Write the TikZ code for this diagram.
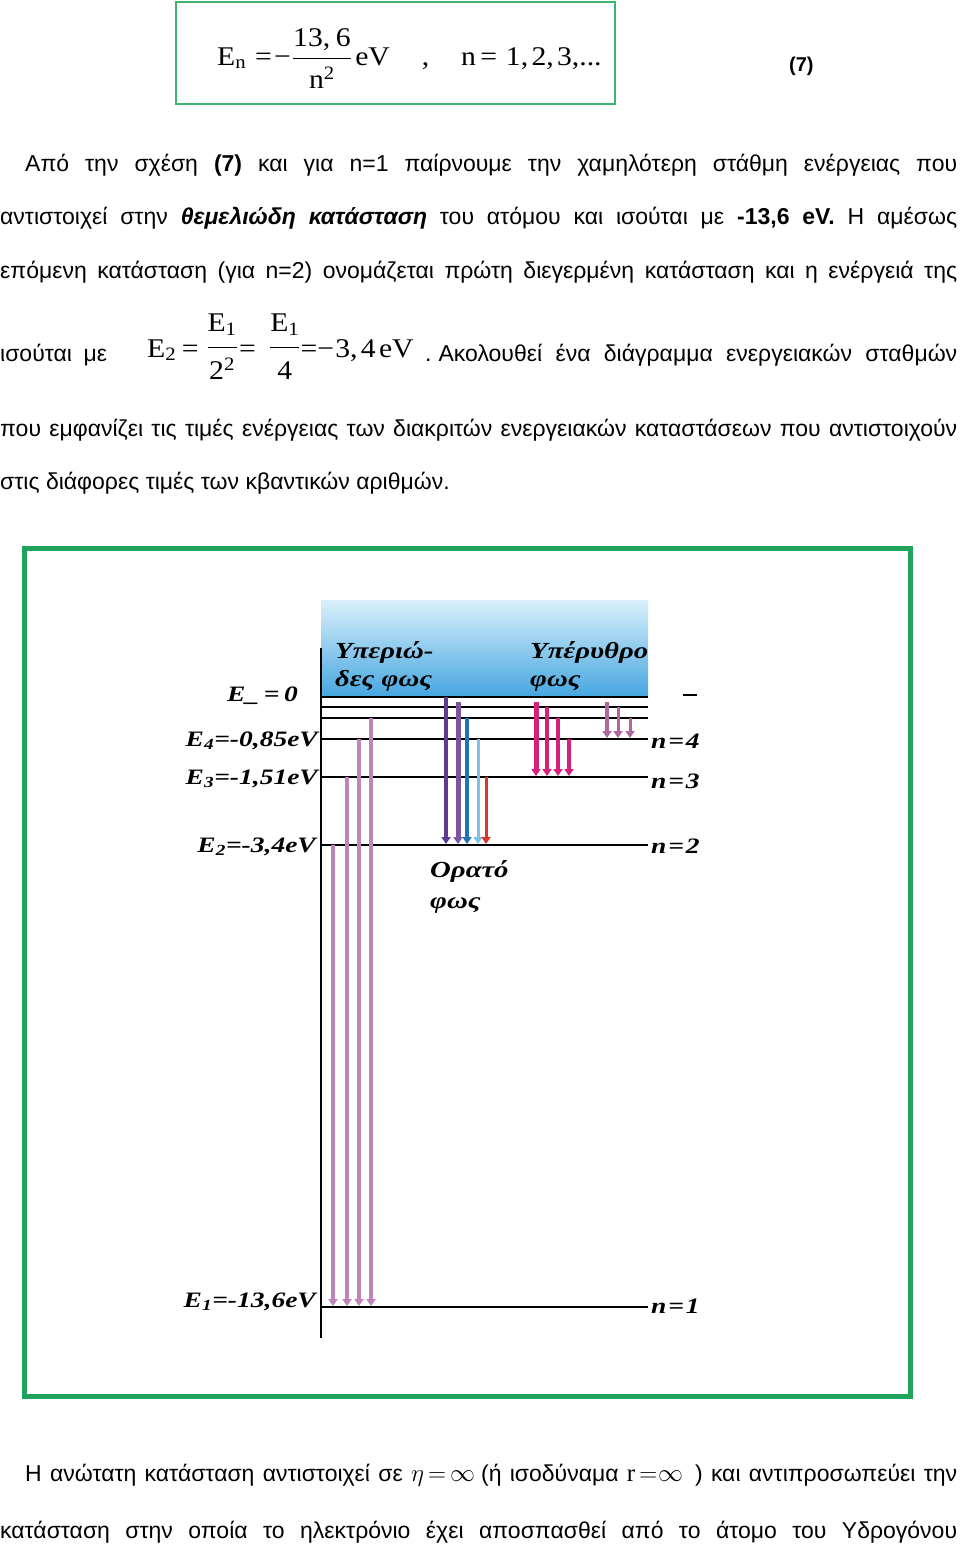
\documentclass[tikz,border=0pt]{standalone}
\usepackage{amsmath}
\usepackage{graphicx}
\usepackage{fontspec}
\setmainfont{Liberation Sans}
\newfontfamily\timesgr{Liberation Serif}
\setmathrm{Liberation Serif}
\usetikzlibrary{arrows.meta,positioning}

\definecolor{framegreen}{HTML}{1DA35B}
\definecolor{boxgreen}{HTML}{3DB56E}
\definecolor{uvtop}{HTML}{DAF0FB}
\definecolor{uvbot}{HTML}{45A6E0}
\definecolor{lymanc}{HTML}{C184BA}
\definecolor{balmera}{HTML}{5B3C8E}
\definecolor{balmerb}{HTML}{7B569F}
\definecolor{balmerc}{HTML}{2173B6}
\definecolor{balmerd}{HTML}{7DC1EA}
\definecolor{balmere}{HTML}{D9352B}
\definecolor{paschenc}{HTML}{D81E7B}
\definecolor{brackc}{HTML}{B0679F}

\newcommand{\widelbl}[1]{\scalebox{1.25}[1]{#1}}
\newcommand{\wideeq}[1]{\scalebox{1.1}[1]{#1}}
% fraction: numerator, denominator, depth under numerator, height over denominator
\newcommand{\tfr}[4]{\ensuremath{\dfrac{\mbox{\rule[-#3]{0pt}{#3}#1}}{\mbox{\rule{0pt}{#4}#2}}}}

\tikzset{
  para/.style={anchor=base west, inner sep=0pt, font=\fontsize{23}{27}\selectfont},
  eqtext/.style={anchor=base west, inner sep=0pt, font=\fontsize{27}{32}\timesgr},
  level/.style={line width=2pt},
  photon/.style={line width=#1, -{Triangle[length=7pt,width=9pt]}, shorten >=1pt},
  photon/.default=4pt,
  lvlabel/.style={anchor=base east, inner sep=0pt, font=\fontsize{22}{26}\timesgr\bfseries\itshape},
  nlabel/.style={anchor=base west, inner sep=0pt, font=\fontsize{22}{26}\timesgr\bfseries\itshape},
  bandlabel/.style={anchor=base west, inner sep=0pt, align=left, font=\fontsize{23}{31}\timesgr\bfseries\itshape},
}

\begin{document}
\begin{tikzpicture}[x=1pt, y=-1pt]
\path[use as bounding box, fill=white] (0,0) rectangle (960,1545);

% formula (7)
\draw[boxgreen, line width=2pt] (176,2) rectangle (615,104);
\node[eqtext] (eqn) at (217,65)
  {\wideeq{E\textsubscript{n}\kern8pt=\kern2pt−\kern1pt\tfr{13,\kern5pt6}{n\textsuperscript{2}}{8.5pt}{26.5pt}\kern3pt eV\hspace{29pt},\hspace{29pt}n\kern4pt=\kern8pt1,\kern3pt2,\kern3pt3,...}};
\node[anchor=base west, inner sep=0pt, font=\fontsize{20}{24}\selectfont\bfseries] (eqno) at (789,71) {(7)};

% text above
\node[para] (line1) at (25,171) {\makebox[932pt][s]{Από την σχέση \textbf{(7)} και για n=1 παίρνουμε την χαμηλότερη στάθμη ενέργειας που}};
\node[para] (line2) at (0,224) {\makebox[957pt][s]{αντιστοιχεί στην \textbf{\textit{θεμελιώδη κατάσταση}} του ατόμου και ισούται με \textbf{-13,6 eV.} Η αμέσως}};
\node[para] (line3) at (0,278) {\makebox[957pt][s]{επόμενη κατάσταση (για n=2) ονομάζεται πρώτη διεγερμένη κατάσταση και η ενέργειά της}};
\node[para] (line4a) at (0,361) {\makebox[107pt][s]{ισούται με}};
\node[eqtext] (eqE2) at (147,357)
  {\wideeq{E\textsubscript{2}\kern5pt=\kern7pt\raisebox{3pt}{\tfr{E\textsubscript{1}}{2\textsuperscript{2}}{12.5pt}{28.5pt}}\kern1pt=\kern12pt\raisebox{3pt}{\tfr{E\textsubscript{1}}{4}{12.5pt}{28.5pt}}=−\kern1pt3,\kern3pt4\kern3pt eV}};
\node[para] (line4b) at (425,361) {\makebox[532pt][s]{\mbox{.\kern7pt Ακολουθεί} ένα διάγραμμα ενεργειακών σταθμών}};
\node[para] (line5) at (0,436) {\makebox[957pt][s]{που εμφανίζει τις τιμές ενέργειας των διακριτών ενεργειακών καταστάσεων που αντιστοιχούν}};
\node[para] (line6) at (0,489) {στις διάφορες τιμές των κβαντικών αριθμών.};

% energy level diagram
\draw[framegreen, line width=5pt] (24.5,548.5) rectangle (910.5,1396.5);

\coordinate (uvnw) at (321,600);
\coordinate (uvse) at (648,697);
\coordinate (E0) at (321,697);
\coordinate (top) at (321,702);
\coordinate (l6) at (321,707);
\coordinate (l5) at (321,718);
\coordinate (n4) at (321,739);
\coordinate (n3) at (321,777);
\coordinate (n2) at (321,845);
\coordinate (n1) at (321,1307);
\coordinate (axtop) at (321,648);
\coordinate (axbot) at (321,1338);

\shade[top color=uvtop, bottom color=uvbot] (uvnw) rectangle (uvse);
\draw[level, line width=2.5pt] (E0) -- (uvse);
\foreach \l in {l6,l5,n4,n3,n2,n1}
  \draw[level] (\l) -- ++(327,0);
\draw[level] (683,695) -- (697,695);
\draw[line width=2pt] (axtop) -- (axbot);

% Lyman
\foreach \x/\s in {333/n2,347/n3,359/n4,371/l5}
  \draw[photon=4pt, lymanc] (\x,0 |- \s) -- (\x,0 |- n1);
% Balmer
\foreach \x/\s/\c/\w in {446/E0/balmera/4pt,458/top/balmerb/5pt,467/l5/balmerc/3.5pt,478/n4/balmerd/3pt,486/n3/balmere/3pt}
  \draw[photon=\w, \c] (\x,0 |- \s) -- (\x,0 |- n2);
% Paschen
\foreach \x/\s/\w in {536/top/5pt,547/l6/3.5pt,558/l5/3.5pt,569/n4/3.5pt}
  \draw[photon=\w, paschenc] (\x,0 |- \s) -- (\x,0 |- n3);
% Brackett
\foreach \x/\s/\w in {607/top/4pt,618/l6/3pt,630/l5/3pt}
  \draw[photon=\w, brackc] (\x,0 |- \s) -- (\x,0 |- n4);

\node[lvlabel] (lblE0) at (298,701) {\widelbl{E\_\,=\,0}};
\node[lvlabel] (lblE4) at (318,746) {\widelbl{E\textsubscript{4}=-0,85eV}};
\node[lvlabel] (lblE3) at (318,784) {\widelbl{E\textsubscript{3}=-1,51eV}};
\node[lvlabel] (lblE2) at (316,852) {\widelbl{E\textsubscript{2}=-3,4eV}};
\node[lvlabel] (lblE1) at (316,1307) {\widelbl{E\textsubscript{1}=-13,6eV}};

\node[nlabel] (lbln4) at (651,748) {\widelbl{n\kern1.5pt=\kern1.5pt4}};
\node[nlabel] (lbln3) at (651,788) {\widelbl{n\kern1.5pt=\kern1.5pt3}};
\node[nlabel] (lbln2) at (651,853) {\widelbl{n\kern1.5pt=\kern1.5pt2}};
\node[nlabel] (lbln1) at (651,1313) {\widelbl{n\kern1.5pt=\kern1.5pt1}};

\node[bandlabel] (uv1) at (335,658) {\widelbl{Υπεριώ-}};
\node[bandlabel] (uv2) at (335,686) {\widelbl{δες φως}};
\node[bandlabel] (ir1) at (530,658) {\widelbl{Υπέρυθρο}};
\node[bandlabel] (ir2) at (530,686) {\widelbl{φως}};
\node[bandlabel] (vis1) at (430,877) {\widelbl{Ορατό}};
\node[bandlabel] (vis2) at (430,908) {\widelbl{φως}};

% text below
\node[para] (line7) at (25,1481) {\makebox[932pt][s]{Η ανώτατη κατάσταση αντιστοιχεί σε \mbox{{\fontsize{27}{30}\selectfont$\eta\,{=}\,\infty$}\kern6pt(ή} ισοδύναμα \mbox{{\fontsize{25}{30}\selectfont{\timesgr r}\kern4pt$=$\kern1pt$\infty$}\kern12pt)} και αντιπροσωπεύει την}};
\node[para] (line8) at (0,1538) {\makebox[957pt][s]{κατάσταση στην οποία το ηλεκτρόνιο έχει αποσπασθεί από το άτομο του Υδρογόνου}};
\end{tikzpicture}
\end{document}
